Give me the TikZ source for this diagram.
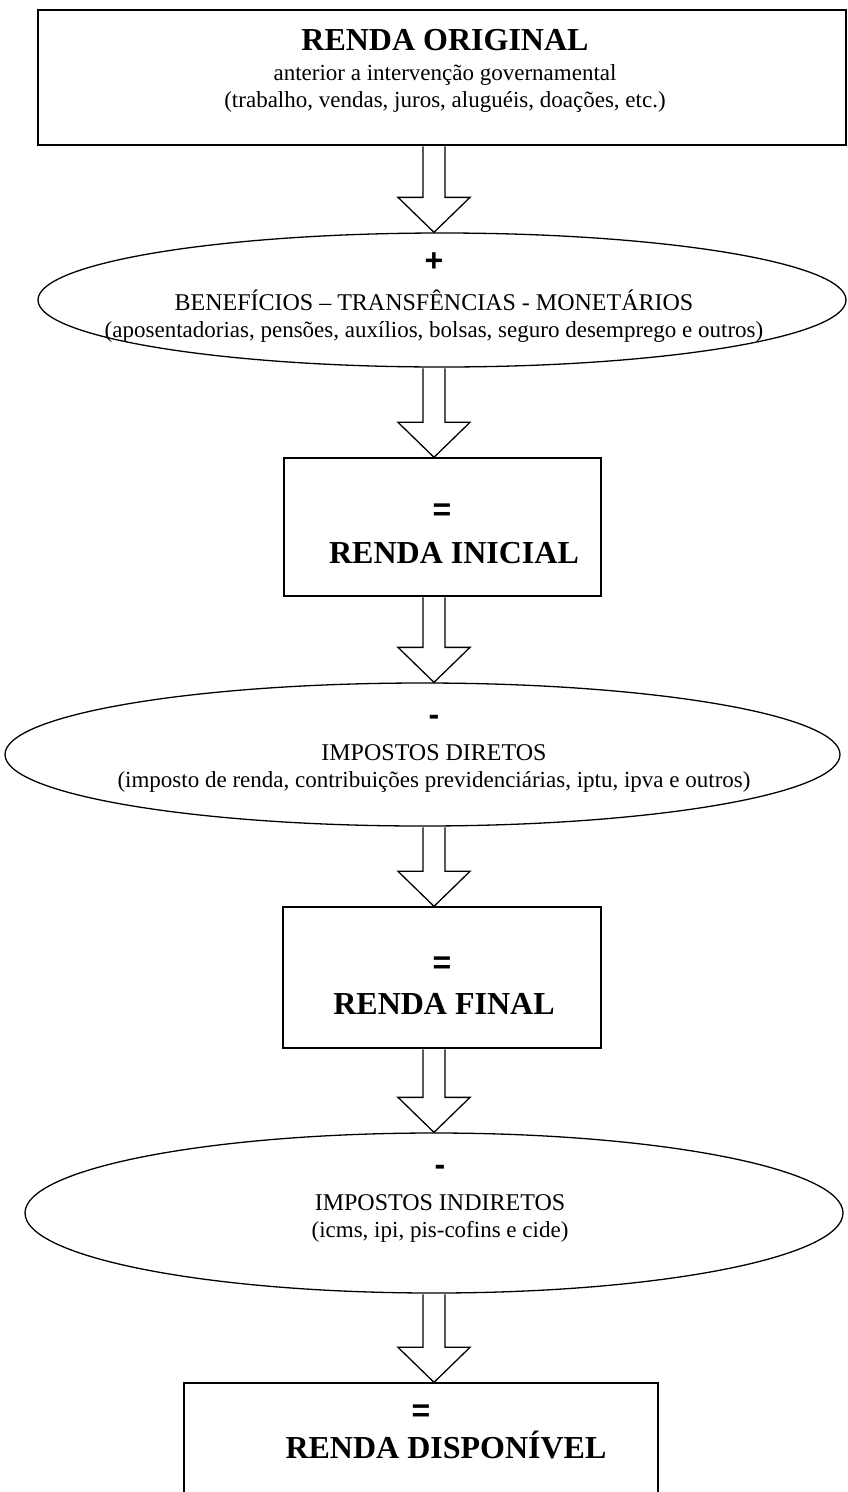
\documentclass[tikz,border=0pt]{standalone}
\usepackage{fontspec}
\setmainfont{Liberation Serif}
\newfontfamily\sinalfont{Liberation Sans}
\usetikzlibrary{shapes.geometric,calc}

% seta larga entre duas formas
\newcommand{\seta}[2]{%
  \draw[setastyle] let \p1=(#1.south -| eixo), \p2=(#2.north -| eixo) in
    (\x1-11,\y1-0.7) -- (\x1-11,\y2+35) -- (\x1-36,\y2+35) -- (\x2,\y2)
    -- (\x1+36,\y2+35) -- (\x1+11,\y2+35) -- (\x1+11,\y1-0.7);
}
\newcommand{\caps}{\fontsize{24}{27}\selectfont}

\begin{document}
\begin{tikzpicture}[x=1pt,y=1pt]
    \tikzset{
        caixastyle/.style={draw, rectangle, line width=1.4pt, inner sep=0pt},
        elipsestyle/.style={draw, ellipse, line width=1.3pt, inner sep=0pt},
        setastyle/.style={draw, fill=white, line width=1.3pt, line join=miter},
        titulostyle/.style={font=\fontsize{32}{36}\selectfont\bfseries},
        textostyle/.style={font=\fontsize{23}{27}\selectfont, align=center},
        sinalstyle/.style={font=\fontsize{32}{32}\selectfont\sinalfont\bfseries}
    }
    \useasboundingbox (0,0) rectangle (848,-1492);
    \clip (0,0) rectangle (848,-1492);
    \coordinate (eixo) at (434,0);

    % Renda original
    \node[caixastyle, minimum width=808, minimum height=135] (original) at (442,-77.5) {};
    \node[titulostyle] (tituloOriginal) at (445,-40) {RENDA ORIGINAL};
    \node[textostyle] (textoOriginal) at (445,-88)
        {anterior a intervenção governamental\\(trabalho, vendas, juros, aluguéis, doações, etc.)};

    % Beneficios
    \node[elipsestyle, minimum width=808, minimum height=134] (beneficios) at (442,-300) {};
    \node[sinalstyle] (mais) at (434,-262) {+};
    \node[textostyle] (textoBeneficios) at (434,-316.5)
        {{\caps BENEFÍCIOS – TRANSFÊNCIAS - MONETÁRIOS}\\(aposentadorias, pensões, auxílios, bolsas, seguro desemprego e outros)};

    % Renda inicial
    \node[caixastyle, minimum width=317, minimum height=138] (inicial) at (442.5,-527) {};
    \node[sinalstyle] (igualA) at (442,-512) {=};
    \node[titulostyle] (tituloInicial) at (454,-553) {RENDA INICIAL};

    % Impostos diretos
    \node[elipsestyle, minimum width=835, minimum height=143] (diretos) at (422.5,-754.5) {};
    \node[sinalstyle] (menosA) at (434,-720) {-};
    \node[textostyle] (textoDiretos) at (434,-768.5)
        {{\caps IMPOSTOS DIRETOS}\\(imposto de renda, contribuições previdenciárias, iptu, ipva e outros)};

    % Renda final
    \node[caixastyle, minimum width=318, minimum height=141] (final) at (442,-977.5) {};
    \node[sinalstyle] (igualB) at (442,-965) {=};
    \node[titulostyle] (tituloFinal) at (444,-1004) {RENDA FINAL};

    % Impostos indiretos
    \node[elipsestyle, minimum width=818, minimum height=160] (indiretos) at (434,-1213) {};
    \node[sinalstyle] (menosB) at (440,-1170) {-};
    \node[textostyle] (textoIndiretos) at (440,-1218)
        {{\caps IMPOSTOS INDIRETOS}\\(icms, ipi, pis-cofins e cide)};

    % Renda disponivel
    \node[caixastyle, minimum width=474, minimum height=160] (disponivel) at (421,-1463) {};
    \node[sinalstyle] (igualC) at (421,-1413) {=};
    \node[titulostyle] (tituloDisponivel) at (446,-1445) {RENDA DISPONÍVEL};

    % Setas
    \seta{original}{beneficios}
    \seta{beneficios}{inicial}
    \seta{inicial}{diretos}
    \seta{diretos}{final}
    \seta{final}{indiretos}
    \seta{indiretos}{disponivel}
\end{tikzpicture}
\end{document}
